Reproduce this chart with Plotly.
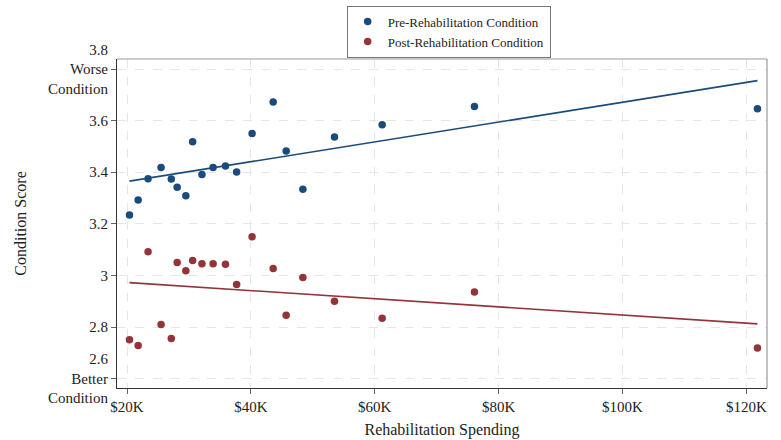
import numpy as np
import plotly.graph_objects as go

# Data (spending in $K)
spending = [20.4, 21.8, 23.4, 25.5, 27.15, 28.1, 29.5, 30.6, 32.1, 33.9,
            35.9, 37.7, 40.2, 43.6, 45.7, 48.4, 53.5, 61.2, 76.1, 121.8]
pre_condition = [3.234, 3.292, 3.375, 3.418, 3.374, 3.342, 3.309, 3.518, 3.391, 3.418,
                 3.424, 3.401, 3.550, 3.672, 3.482, 3.334, 3.537, 3.584, 3.655, 3.646]
post_condition = [2.751, 2.728, 3.092, 2.810, 2.755, 3.050, 3.018, 3.058, 3.045, 3.045,
                  3.043, 2.965, 3.150, 3.027, 2.846, 2.992, 2.900, 2.834, 2.936, 2.719]

x_tickvals = [20, 40, 60, 80, 100, 120]
x_ticktext = ["$20K", "$40K", "$60K", "$80K", "$100K", "$120K"]
y_tickvals = [2.6, 2.8, 3.0, 3.2, 3.4, 3.6, 3.8]
y_ticktext = ["2.6<br>Better<br>Condition", "2.8", "3", "3.2", "3.4", "3.6",
              "3.8<br>Worse<br>Condition"]

BLUE = "#1B4B7A"
RED = "#943338"
FONT = "Liberation Serif, Times New Roman, serif"

x = np.array(spending)
xs = np.array([x.min(), x.max()])

fig = go.Figure()
for ys, col, name in [(pre_condition, BLUE, "Pre-Rehabilitation Condition"),
                      (post_condition, RED, "Post-Rehabilitation Condition")]:
    fig.add_trace(go.Scatter(x=spending, y=ys, mode="markers", name=name,
                             marker=dict(color=col, size=7.5)))
    b, a = np.polyfit(x, np.array(ys), 1)
    fig.add_trace(go.Scatter(x=xs, y=a + b * xs, mode="lines", showlegend=False,
                             line=dict(color=col, width=1.6), hoverinfo="skip"))

fig.update_layout(
    width=781, height=440,
    margin=dict(l=117, r=14, t=59, b=52, autoexpand=False),
    paper_bgcolor="white", plot_bgcolor="white",
    font=dict(family=FONT, size=15, color="#222"),
    legend=dict(x=(346.7 - 117) / 650.0, xanchor="left",
                y=1.0 + (59.3 - 6) / 328.4, yanchor="top",
                bordercolor="#777", borderwidth=1, bgcolor="white",
                font=dict(size=13, family=FONT), itemwidth=30,
                tracegroupgap=0),
    showlegend=True,
)

fig.update_xaxes(range=[18.385, 123.34], tickvals=x_tickvals, ticktext=x_ticktext,
                 showgrid=True, gridcolor="#e6e6e6", griddash="dash", gridwidth=1,
                 showline=True, linecolor="#333", linewidth=1.2,
                 ticks="outside", ticklen=5, tickcolor="#666",
                 zeroline=False,
                 title=dict(text="Rehabilitation Spending", standoff=9,
                            font=dict(size=16)))
fig.update_yaxes(range=[2.5635, 3.839], tickvals=y_tickvals, ticktext=y_ticktext,
                 showgrid=True, gridcolor="#e6e6e6", griddash="dash", gridwidth=1,
                 showline=True, linecolor="#333", linewidth=1.2,
                 ticks="outside", ticklen=5, tickcolor="#666",
                 zeroline=False,
                 title=dict(text="Condition Score", standoff=17,
                            font=dict(size=16)))

# top and right frame in grey
fig.add_shape(type="line", xref="paper", yref="paper", x0=0, x1=1, y0=1, y1=1,
              line=dict(color="#999", width=1.2))
fig.add_shape(type="line", xref="paper", yref="paper", x0=1, x1=1, y0=0, y1=1,
              line=dict(color="#999", width=1.2))

fig.write_html("out.html", config={"displayModeBar": False},
               post_script="document.body.style.margin='0px';")
